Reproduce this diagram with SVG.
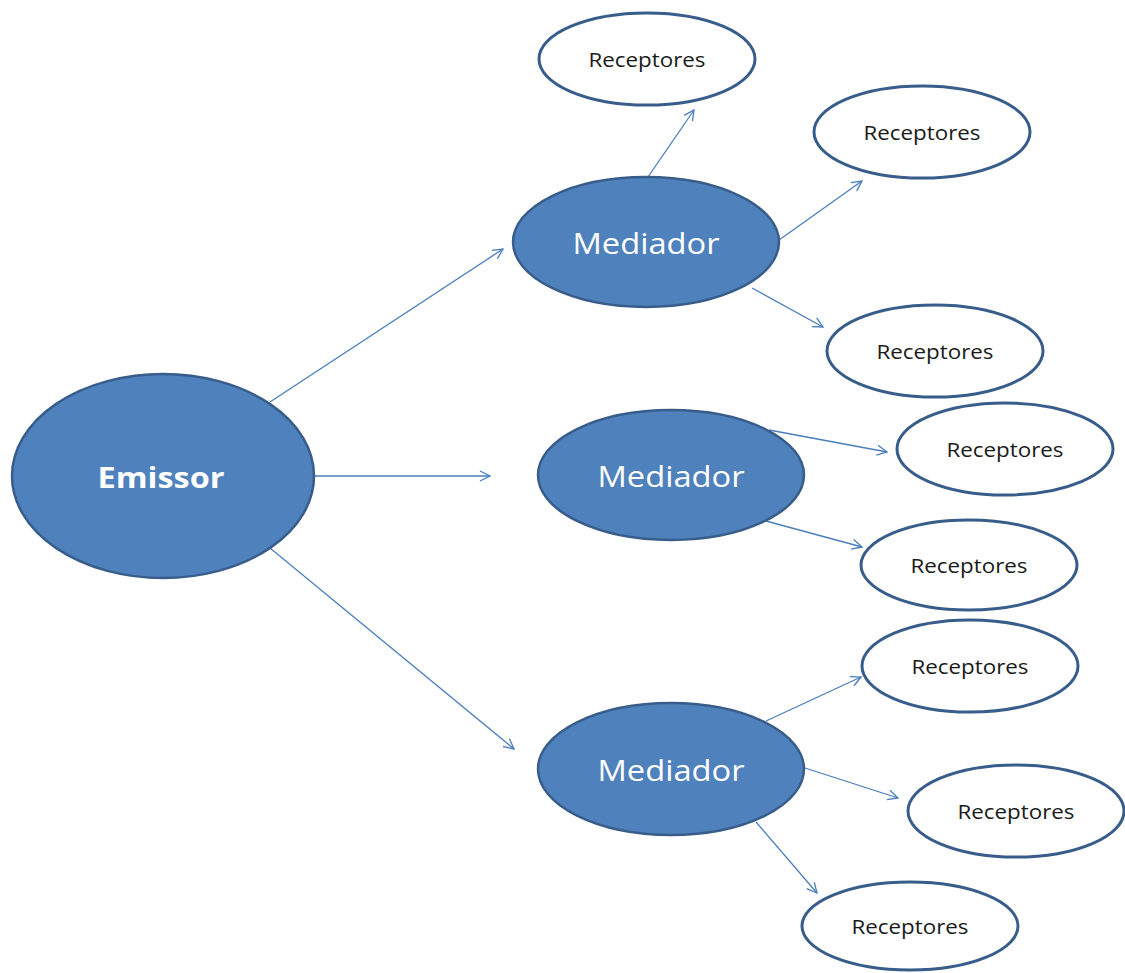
<svg xmlns="http://www.w3.org/2000/svg" width="1125" height="973" viewBox="0 0 1125 973">
  <defs>
    <marker id="arrow" viewBox="0 0 12 12" refX="11" refY="6" markerWidth="12" markerHeight="12" markerUnits="userSpaceOnUse" orient="auto">
      <path d="M1,1 L11,6 L1,11" fill="none" stroke="#4A7EBB" stroke-width="1.3" stroke-linejoin="miter"/>
    </marker>
  </defs>
  <style>
    .hub { fill: #4F81BD; stroke: #385D8A; stroke-width: 2.5; }
    .leaf { fill: #FFFFFF; stroke: #385D8A; stroke-width: 3; }
    .hub-text { font-family: "Open Sans", "Liberation Sans", sans-serif; fill: #FFFFFF; text-anchor: middle; }
    .leaf-text { font-family: "Open Sans", "Liberation Sans", sans-serif; font-size: 20px; fill: #1A1A1A; text-anchor: middle; }
    .link { stroke: #4A7EBB; stroke-width: 1.3; fill: none; marker-end: url(#arrow); }
  </style>
  <rect x="0" y="0" width="1125" height="973" fill="#FFFFFF"/>

  <!-- connectors -->
  <g id="connectors">
    <line class="link" x1="270" y1="402" x2="503" y2="249"/>
    <line class="link" x1="314" y1="476" x2="490" y2="476"/>
    <line class="link" x1="270" y1="548" x2="514" y2="749"/>
    <line class="link" x1="648" y1="177" x2="694" y2="110"/>
    <line class="link" x1="779" y1="240" x2="862" y2="181"/>
    <line class="link" x1="752" y1="288" x2="823" y2="327"/>
    <line class="link" x1="769" y1="430" x2="887" y2="452"/>
    <line class="link" x1="766" y1="521" x2="862" y2="547"/>
    <line class="link" x1="766" y1="721" x2="861" y2="677"/>
    <line class="link" x1="805" y1="768" x2="898" y2="798"/>
    <line class="link" x1="756" y1="822" x2="817" y2="893"/>
  </g>

  <!-- source -->
  <g id="emissor">
    <ellipse class="hub" cx="163" cy="476" rx="151" ry="102"/>
    <text class="hub-text" x="161" y="488" font-size="28" font-weight="bold" textLength="127" lengthAdjust="spacingAndGlyphs">Emissor</text>
  </g>

  <!-- intermediaries -->
  <g id="mediador-1">
    <ellipse class="hub" cx="646" cy="242" rx="133" ry="65"/>
    <text class="hub-text" x="646" y="254" font-size="30" textLength="147" lengthAdjust="spacingAndGlyphs">Mediador</text>
  </g>
  <g id="mediador-2">
    <ellipse class="hub" cx="671" cy="475" rx="133" ry="65"/>
    <text class="hub-text" x="671" y="487" font-size="30" textLength="147" lengthAdjust="spacingAndGlyphs">Mediador</text>
  </g>
  <g id="mediador-3">
    <ellipse class="hub" cx="671" cy="769" rx="133" ry="66"/>
    <text class="hub-text" x="671" y="781" font-size="30" textLength="147" lengthAdjust="spacingAndGlyphs">Mediador</text>
  </g>

  <!-- receivers -->
  <g id="receptores-1">
    <ellipse class="leaf" cx="647" cy="59" rx="108" ry="46"/>
    <text class="leaf-text" x="647" y="67" textLength="117" lengthAdjust="spacingAndGlyphs">Receptores</text>
  </g>
  <g id="receptores-2">
    <ellipse class="leaf" cx="922" cy="132" rx="108" ry="46"/>
    <text class="leaf-text" x="922" y="140" textLength="117" lengthAdjust="spacingAndGlyphs">Receptores</text>
  </g>
  <g id="receptores-3">
    <ellipse class="leaf" cx="935" cy="351" rx="108" ry="46"/>
    <text class="leaf-text" x="935" y="359" textLength="117" lengthAdjust="spacingAndGlyphs">Receptores</text>
  </g>
  <g id="receptores-4">
    <ellipse class="leaf" cx="1005" cy="449" rx="108" ry="46"/>
    <text class="leaf-text" x="1005" y="457" textLength="117" lengthAdjust="spacingAndGlyphs">Receptores</text>
  </g>
  <g id="receptores-5">
    <ellipse class="leaf" cx="969" cy="565" rx="108" ry="45"/>
    <text class="leaf-text" x="969" y="573" textLength="117" lengthAdjust="spacingAndGlyphs">Receptores</text>
  </g>
  <g id="receptores-6">
    <ellipse class="leaf" cx="970" cy="666" rx="108" ry="46"/>
    <text class="leaf-text" x="970" y="674" textLength="117" lengthAdjust="spacingAndGlyphs">Receptores</text>
  </g>
  <g id="receptores-7">
    <ellipse class="leaf" cx="1016" cy="811" rx="108" ry="46"/>
    <text class="leaf-text" x="1016" y="819" textLength="117" lengthAdjust="spacingAndGlyphs">Receptores</text>
  </g>
  <g id="receptores-8">
    <ellipse class="leaf" cx="910" cy="926" rx="108" ry="44"/>
    <text class="leaf-text" x="910" y="934" textLength="117" lengthAdjust="spacingAndGlyphs">Receptores</text>
  </g>
</svg>
